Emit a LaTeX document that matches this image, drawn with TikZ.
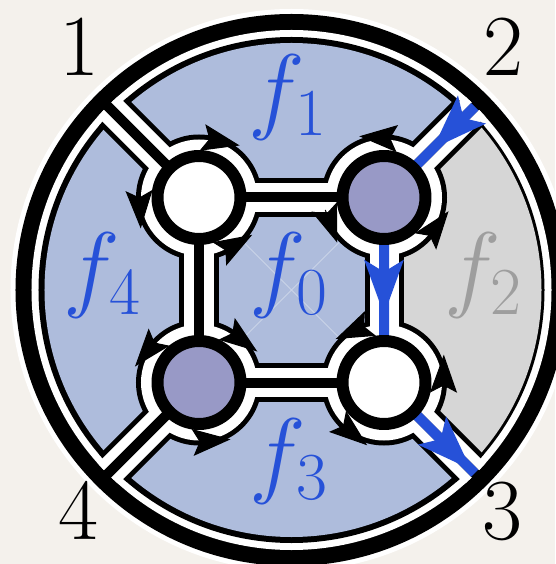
\RequirePackage{fix-cm}
\documentclass[tikz,border=0pt]{standalone}
\usetikzlibrary{arrows.meta}
\definecolor{paper}{RGB}{244,241,236}
\definecolor{facebl}{RGB}{174,188,220}
\definecolor{facegr}{RGB}{214,214,214}
\definecolor{vertpu}{RGB}{152,153,198}
\definecolor{pathbl}{RGB}{38,81,216}
\definecolor{labgr}{RGB}{158,158,158}
\begin{document}
\begin{tikzpicture}[x=1pt,y=1pt,line join=round,
	edgeout/.style={line width=39pt},
	edgegap/.style={white,line width=29pt},
	edgecore/.style={line width=10pt},
	bluepath/.style={pathbl,line width=10pt},
	bluetip/.style={-{Stealth[length=54pt,width=38pt,inset=11pt]}},
	facearrow/.style={line width=1pt,-{Stealth[length=38pt,width=27pt,inset=7pt]}},
	vert/.style={circle,draw=black,line width=12pt,minimum size=83pt,inner sep=0pt},
	wvert/.style={vert,fill=white},
	pvert/.style={vert,fill=vertpu},
	numlab/.style={font=\fontsize{87}{90}\selectfont,inner sep=0pt,anchor=base},
	facelab/.style={font=\fontsize{96}{100}\selectfont,text=pathbl,inner sep=0pt,anchor=base}]
	\useasboundingbox (-291.5,-274) rectangle (263.5,290);
	\fill[paper] (-291.5,-274) rectangle (263.5,290);
	% vertices and ends on the rim
	\coordinate (v1) at (-92.5,92.5);
	\coordinate (v2) at (92.5,92.5);
	\coordinate (v3) at (92.5,-92.5);
	\coordinate (v4) at (-92.5,-92.5);
	\coordinate (b1) at (135:270);
	\coordinate (b2) at (45:270);
	\coordinate (b3) at (-45:270);
	\coordinate (b4) at (-135:270);
	% rim
	\fill[white] (0,0) circle (281);
	\fill[black] (0,0) circle (276);
	\fill[white] (0,0) circle (260);
	\fill[black] (0,0) circle (253);
	\fill[facebl] (0,0) circle (247);
	\fill[facegr] (v2) -- (45:250) arc[start angle=45,end angle=-45,radius=250] -- (v3) -- cycle;
	\draw[white,opacity=.35,line width=.8pt] (v1) -- (v3) (v2) -- (v4);
	% ribbons
	\begin{scope}
		\clip (0,0) circle (253);
		\draw[edgeout] (v1) -- (v2) -- (v3) -- (v4) -- cycle;
		\draw[edgeout] (v1) -- (b1) (v2) -- (b2) (v3) -- (b3) (v4) -- (b4);
		\fill (v1) circle (63) (v2) circle (63) (v3) circle (63) (v4) circle (63);
	\end{scope}
	\begin{scope}
		\clip (0,0) circle (260);
		\draw[edgegap] (v1) -- (v2) -- (v3) -- (v4) -- cycle;
		\draw[edgegap] (v1) -- (b1) (v2) -- (b2) (v3) -- (b3) (v4) -- (b4);
		\fill[white] (v1) circle (58) (v2) circle (58) (v3) circle (58) (v4) circle (58);
	\end{scope}
	\draw[edgecore] (v1) -- (v2) -- (v3) -- (v4) -- cycle;
	\draw[edgecore] (v1) -- (b1) (v2) -- (b2) (v3) -- (b3) (v4) -- (b4);
	% blue path 2 -> 3
	\coordinate (p1) at (45:259);
	\coordinate (p2) at (-45:259);
	\coordinate (a1) at (45:200);
	\coordinate (a2) at (92.5,-25);
	\coordinate (a3) at (-45:254);
	\draw[bluepath] (p1) -- (v2) -- (v3) -- (p2);
	\draw[bluepath,bluetip] (p1) -- (a1);
	\draw[bluepath,bluetip] (v2) -- (a2);
	\draw[bluepath,bluetip] (v3) -- (a3);
	\node[wvert] (n1) at (v1) {};
	\node[pvert] (n2) at (v2) {};
	\node[wvert] (n3) at (v3) {};
	\node[pvert] (n4) at (v4) {};
	% small arrows round the vertices
	\draw[facearrow] ([shift={(v1)}]86:60) -- ([shift={(v1)}]52:66);
	\draw[facearrow] ([shift={(v1)}]176:60) -- ([shift={(v1)}]208:66);
	\draw[facearrow] ([shift={(v1)}]-70:60) -- ([shift={(v1)}]-35:65);
	\draw[facearrow] ([shift={(v2)}]80:60) -- ([shift={(v2)}]112:66);
	\draw[facearrow] ([shift={(v2)}]192:60) -- ([shift={(v2)}]224:65);
	\draw[facearrow] ([shift={(v2)}]-44:60) -- ([shift={(v2)}]-12:66);
	\draw[facearrow] ([shift={(v3)}]106:60) -- ([shift={(v3)}]138:65);
	\draw[facearrow] ([shift={(v3)}]-7:60) -- ([shift={(v3)}]25:66);
	\draw[facearrow] ([shift={(v3)}]-137:60) -- ([shift={(v3)}]-105:65);
	\draw[facearrow] ([shift={(v4)}]134:60) -- ([shift={(v4)}]166:66);
	\draw[facearrow] ([shift={(v4)}]60:60) -- ([shift={(v4)}]28:66);
	\draw[facearrow] ([shift={(v4)}]-95:60) -- ([shift={(v4)}]-61:65);
	% labels
	\node[numlab] (l1) at (-212.5,214) {1};
	\node[numlab] (l2) at (211.5,214) {2};
	\node[numlab] (l3) at (210.5,-249) {3};
	\node[numlab] (l4) at (-213.5,-249.5) {4};
	\node[facelab] (f0) at (-3,-10) {$f_0$};
	\node[facelab] (f1) at (-4,168.6) {$f_1$};
	\node[facelab,text=labgr] (f2) at (191.5,-10) {$f_2$};
	\node[facelab] (f3) at (-3,-195.5) {$f_3$};
	\node[facelab] (f4) at (-189.5,-10) {$f_4$};
\end{tikzpicture}
\end{document}
